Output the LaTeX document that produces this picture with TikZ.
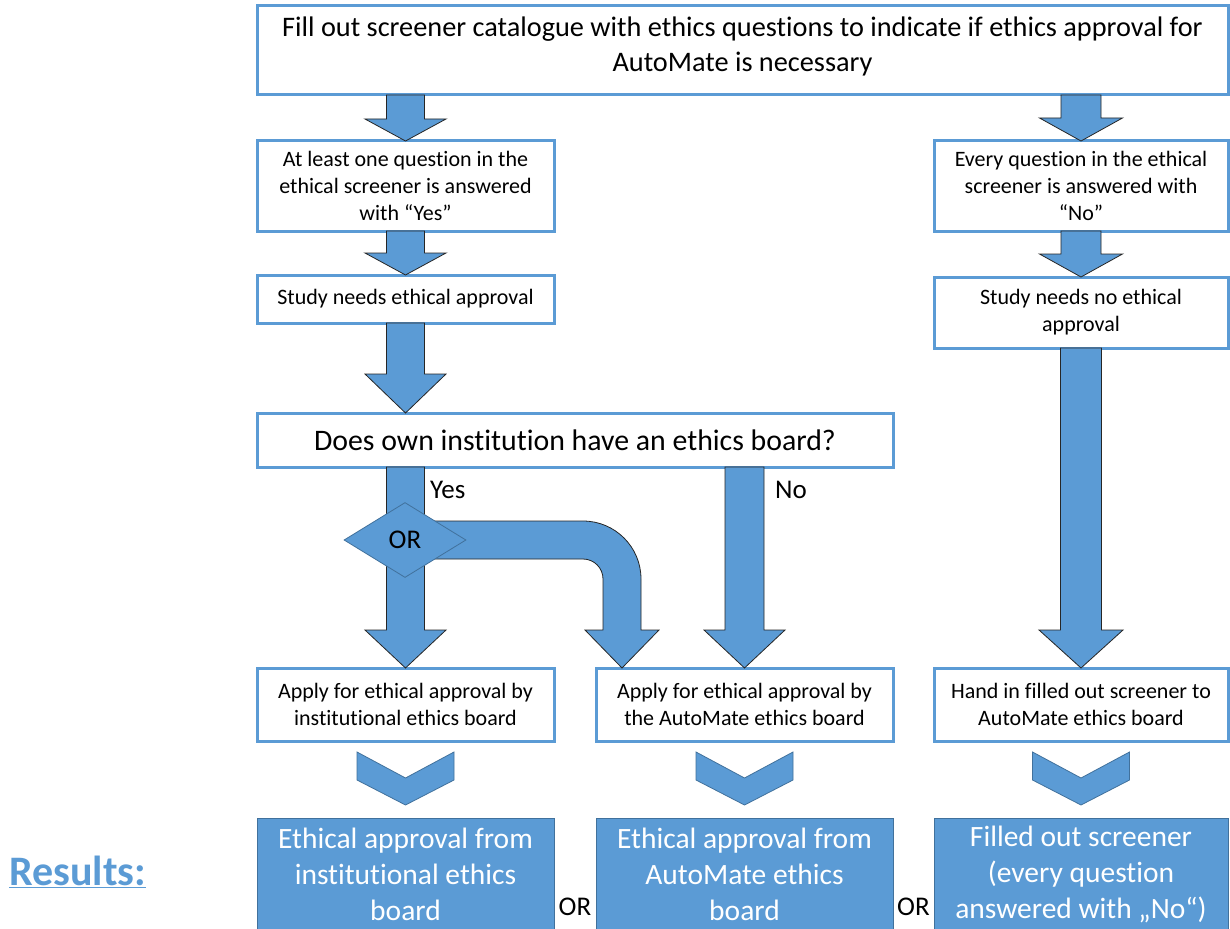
\documentclass[tikz,border=0pt]{standalone}
\usepackage{fontspec}
\setmainfont{Carlito}[Ligatures=NoCommon]
\usetikzlibrary{calc,shapes.geometric}
\definecolor{ofblue}{HTML}{5B9BD5}
\definecolor{ofdark}{HTML}{41719C}
\newcommand{\fsm}{\fontsize{22}{27}\selectfont}
\newcommand{\fbg}{\fontsize{28.3}{35}\selectfont}
\newcommand{\fq}{\fontsize{29.8}{36}\selectfont}
\newcommand{\frs}{\fontsize{29.5}{36}\selectfont}
\newcommand{\flb}{\fontsize{27}{32}\selectfont}
\newcommand{\frl}{\fontsize{42}{50}\selectfont}
\tikzset{
  wbox/.style={rectangle, draw=ofblue, line width=3pt, fill=white, inner sep=0pt, outer sep=0pt, align=center, text=black},
  rbox/.style={rectangle, draw=ofdark, line width=1pt, fill=ofblue, inner sep=0pt, outer sep=0pt, align=center, text=white, font=\frs, minimum width=297pt, minimum height=112pt},
  barrow/.style={fill=ofblue, draw=black!85, line width=0.8pt, line join=miter},
  chev/.style={fill=ofblue, draw=ofdark, line width=0.8pt},
  lbl/.style={font=\flb, text=black, inner sep=0pt}
}
\newcommand{\blockarrow}[5]{%
  \draw[barrow] let \p1=(#1), \p2=(#2) in
   (\x2-#3pt,\y1) -- (\x2+#3pt,\y1) -- (\x2+#3pt,\y2+#5pt) -- (\x2+#4pt,\y2+#5pt)
   -- (\x2,\y2) -- (\x2-#4pt,\y2+#5pt) -- (\x2-#3pt,\y2+#5pt) -- cycle;}
\newcommand{\chevron}[1]{%
  \draw[chev] let \p1=(#1.south) in
   (\x1-48.5pt,\y1-11pt) -- (\x1,\y1-37pt) -- (\x1+48.5pt,\y1-11pt) -- (\x1+48.5pt,\y1-39pt)
   -- (\x1,\y1-64pt) -- (\x1-48.5pt,\y1-39pt) -- cycle;}
\begin{document}
\begin{tikzpicture}[x=1pt,y=-1pt]
\useasboundingbox (0,0) rectangle (1230,928);
\fill[white] (0,0) rectangle (1230,928);

% boxes
\node[wbox, font=\fbg, minimum width=971pt, minimum height=89pt, text height=55pt, text depth=12pt] (top) at (742.5,50.5)
  {Fill out screener catalogue with ethics questions to indicate if ethics approval for\\AutoMate is necessary};
\node[wbox, font=\fsm, minimum width=297pt, minimum height=90pt] (A) at (405.5,186)
  {At least one question in the\\ethical screener is answered\\with “Yes”};
\node[wbox, font=\fsm, minimum width=297pt, minimum height=48pt] (B) at (405.5,299)
  {Study needs ethical approval};
\node[wbox, font=\fq, minimum width=636pt, minimum height=54pt] (Q) at (575,440)
  {Does own institution have an ethics board?};
\node[wbox, font=\fsm, minimum width=294pt, minimum height=90pt] (C) at (1081,186)
  {Every question in the ethical\\screener is answered with\\“No”};
\node[wbox, font=\fsm, minimum width=294pt, minimum height=71pt] (D) at (1081,312.5)
  {Study needs no ethical\\approval};
\node[wbox, font=\fsm, minimum width=297pt, minimum height=73pt] (E) at (405.5,704.5)
  {Apply for ethical approval by\\institutional ethics board};
\node[wbox, font=\fsm, minimum width=297pt, minimum height=73pt] (F) at (744.5,704.5)
  {Apply for ethical approval by\\the AutoMate ethics board};
\node[wbox, font=\fsm, minimum width=294pt, minimum height=73pt] (G) at (1081,704.5)
  {Hand in filled out screener to\\AutoMate ethics board};

% result boxes
\node[rbox] (R1) at (405.5,874) {Ethical approval from\\institutional ethics\\board};
\node[rbox] (R2) at (744.5,874) {Ethical approval from\\AutoMate ethics\\board};
\node[rbox, minimum width=294pt] (R3) at (1081,874) {Filled out screener\\(every question\\answered with „No“)};

% block arrows
\blockarrow{A.north |- top.south}{A.north}{19}{40.5}{22}
\blockarrow{A.south}{B.north}{19}{40.5}{22}
\blockarrow{B.south}{B.south |- Q.north}{19}{40.5}{39}
\blockarrow{C.north |- top.south}{C.north}{20}{41.5}{23}
\blockarrow{C.south}{D.north}{20}{41.5}{23}
\blockarrow{D.south}{G.north}{20.5}{42}{38}
\blockarrow{E.north |- Q.south}{E.north}{19}{40.5}{38}
\blockarrow{F.north |- Q.south}{F.north}{19.5}{40.5}{38}

% OR diamond position and curved arrow
\coordinate (orc) at (405,540);
\coordinate (ftip) at ($(F.north west)+(26,0)$);
\draw[barrow] let \p1=(orc), \p2=(ftip) in
  (\x1,\y1+19pt) -- (\x2-39pt,\y1+19pt) arc[start angle=90,end angle=0,radius=58pt]
  -- (\x2+19pt,\y2+38pt) -- (\x2+37pt,\y2+38pt) -- (\x2,\y2) -- (\x2-37pt,\y2+38pt)
  -- (\x2-19pt,\y2+38pt) -- (\x2-19pt,\y1-39pt) arc[start angle=0,end angle=90,radius=20pt]
  -- (\x1,\y1-19pt) -- cycle;
\node[diamond, fill=ofblue, draw=ofdark, line width=0.8pt, minimum width=122pt, minimum height=75pt,
  inner sep=0pt, font=\flb] (orn) at (orc) {OR};

% labels
\node[lbl, anchor=west] (yes) at (430,490) {Yes};
\node[lbl, anchor=west] (no) at (775,490) {No};

% chevrons
\chevron{E}
\chevron{F}
\chevron{G}

% OR between results
\node[lbl] (or1) at (575,907) {OR};
\node[lbl] (or2) at (913.5,907) {OR};

% results label
\node[font=\frl\bfseries, text=ofblue, anchor=base west, inner sep=0pt] (res) at (9,885) {\underline{Results:}};
\end{tikzpicture}
\end{document}
